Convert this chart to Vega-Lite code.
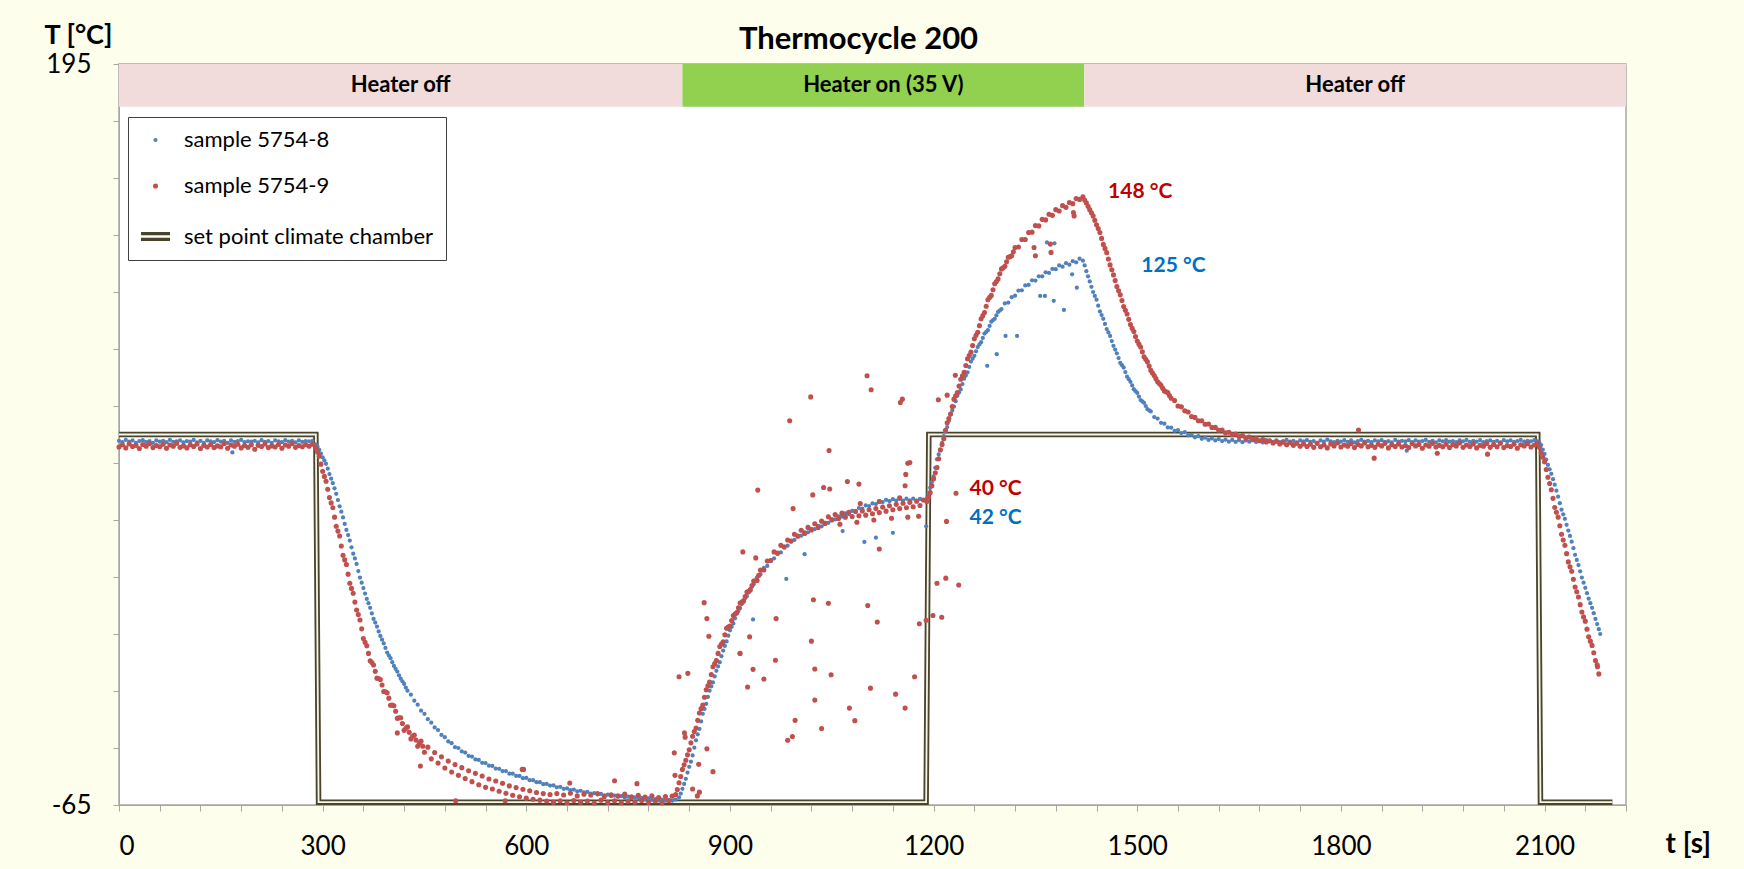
{
"$schema":"https://vega.github.io/schema/vega-lite/v6.json",
"autosize":{"type":"none"},
"width":1507,"height":741,
"padding":{"left":119,"top":64,"right":118,"bottom":64},
"background":"#FDFEEC",
"config":{"font":"Lato","view":{"fill":"white","stroke":"#A6A6A6","strokeWidth":1.5},
"axis":{"domainColor":"#A6A6A6","tickColor":"#A6A6A6","tickSize":6,"labelFontSize":26,"labelColor":"#000","labelFont":"Lato","titleFont":"Lato","titleFontSize":27,"titleFontWeight":"bold","titleColor":"#000","gridColor":"#E3E3E3","labelPadding":22,"labelOverlap":false}},
"title":{"text":"Thermocycle 200","fontSize":31,"fontWeight":"bold","color":"#000","font":"Lato","anchor":"middle","dx":-14,"dy":76,"offset":17,"baseline":"alphabetic"},
"datasets":{
"bands":[{"a":0,"b":830,"m":415,"label":"Heater off"},{"a":830,"b":1422,"m":1126,"label":"Heater on (35 V)"},{"a":1422,"b":2220,"m":1821,"label":"Heater off"}],
"sp":[{"t":0,"v":65},{"t":290,"v":65},{"t":294,"v":-64},{"t":1189,"v":-64},{"t":1193,"v":65},{"t":2090,"v":65},{"t":2094,"v":-64},{"t":2200,"v":-64}],
"annr":[{"t":1457,"v":150,"label":"148 °C"},{"t":1253,"v":46,"label":"40 °C"}],
"annb":[{"t":1506,"v":124,"label":"125 °C"},{"t":1253,"v":35.6,"label":"42 °C"}],
"pts":[
{"t":0,"s":"b","v":62.8},{"t":5,"s":"b","v":62.3},{"t":10,"s":"b","v":63.1},{"t":15,"s":"b","v":62.5},{"t":20,"s":"b","v":62.9},{"t":25,"s":"b","v":62.1},{"t":30,"s":"b","v":62.7},{"t":35,"s":"b","v":63.0},{"t":40,"s":"b","v":62.4},{"t":45,"s":"b","v":62.7},{"t":50,"s":"b","v":62.1},{"t":55,"s":"b","v":62.9},{"t":60,"s":"b","v":62.5},{"t":65,"s":"b","v":62.8},{"t":70,"s":"b","v":62.3},{"t":75,"s":"b","v":63.1},{"t":80,"s":"b","v":62.4},{"t":85,"s":"b","v":62.6},{"t":90,"s":"b","v":62.9},{"t":95,"s":"b","v":62.2},{"t":100,"s":"b","v":62.7},{"t":105,"s":"b","v":62.5},{"t":110,"s":"b","v":63.1},{"t":115,"s":"b","v":62.2},{"t":120,"s":"b","v":62.8},{"t":125,"s":"b","v":62.1},{"t":130,"s":"b","v":62.9},{"t":135,"s":"b","v":62.6},{"t":140,"s":"b","v":62.3},{"t":145,"s":"b","v":63.0},{"t":150,"s":"b","v":62.5},{"t":155,"s":"b","v":62.8},{"t":160,"s":"b","v":62.1},{"t":165,"s":"b","v":62.9},{"t":167,"s":"b","v":58.7},{"t":170,"s":"b","v":62.4},{"t":175,"s":"b","v":62.7},{"t":180,"s":"b","v":63.1},{"t":185,"s":"b","v":62.3},{"t":190,"s":"b","v":62.6},{"t":195,"s":"b","v":62.5},{"t":200,"s":"b","v":62.8},{"t":205,"s":"b","v":62.2},{"t":210,"s":"b","v":63.0},{"t":215,"s":"b","v":62.4},{"t":220,"s":"b","v":62.7},{"t":225,"s":"b","v":62.1},{"t":230,"s":"b","v":62.9},{"t":235,"s":"b","v":62.6},{"t":240,"s":"b","v":62.3},{"t":245,"s":"b","v":63.0},{"t":250,"s":"b","v":62.5},{"t":255,"s":"b","v":62.8},{"t":260,"s":"b","v":62.2},{"t":265,"s":"b","v":62.9},{"t":270,"s":"b","v":62.4},{"t":275,"s":"b","v":62.7},{"t":280,"s":"b","v":62.6},{"t":285,"s":"b","v":62.8},
{"t":290,"s":"b","v":61.5},{"t":295,"s":"b","v":59.6},{"t":300,"s":"b","v":57.0},{"t":305,"s":"b","v":54.7},{"t":310,"s":"b","v":51.1},{"t":315,"s":"b","v":47.9},{"t":320,"s":"b","v":44.2},{"t":325,"s":"b","v":39.8},{"t":330,"s":"b","v":35.9},{"t":335,"s":"b","v":31.5},{"t":340,"s":"b","v":27.8},{"t":345,"s":"b","v":23.2},{"t":350,"s":"b","v":19.6},{"t":355,"s":"b","v":14.8},{"t":360,"s":"b","v":11.1},{"t":365,"s":"b","v":7.3},{"t":370,"s":"b","v":4.2},{"t":375,"s":"b","v":0.3},{"t":380,"s":"b","v":-2.4},{"t":385,"s":"b","v":-5.7},{"t":390,"s":"b","v":-8.3},{"t":395,"s":"b","v":-11.5},{"t":400,"s":"b","v":-13.5},{"t":405,"s":"b","v":-16.2},{"t":410,"s":"b","v":-18.2},{"t":415,"s":"b","v":-20.7},{"t":420,"s":"b","v":-22.5},{"t":425,"s":"b","v":-24.9},{"t":430,"s":"b","v":-26.3},{"t":435,"s":"b","v":-28.4},{"t":440,"s":"b","v":-29.8},{"t":445,"s":"b","v":-31.9},{"t":450,"s":"b","v":-33.0},{"t":455,"s":"b","v":-34.9},{"t":460,"s":"b","v":-36.1},{"t":465,"s":"b","v":-37.8},{"t":470,"s":"b","v":-38.7},{"t":475,"s":"b","v":-40.4},{"t":480,"s":"b","v":-41.2},{"t":485,"s":"b","v":-42.7},{"t":490,"s":"b","v":-43.3},{"t":495,"s":"b","v":-44.7},{"t":500,"s":"b","v":-45.0},{"t":505,"s":"b","v":-46.2},{"t":510,"s":"b","v":-46.6},{"t":515,"s":"b","v":-47.8},{"t":520,"s":"b","v":-48.0},{"t":525,"s":"b","v":-49.0},{"t":530,"s":"b","v":-49.2},{"t":535,"s":"b","v":-50.2},{"t":540,"s":"b","v":-50.3},{"t":545,"s":"b","v":-51.2},{"t":550,"s":"b","v":-51.3},{"t":555,"s":"b","v":-52.2},{"t":560,"s":"b","v":-52.3},{"t":565,"s":"b","v":-53.1},{"t":570,"s":"b","v":-53.1},{"t":575,"s":"b","v":-54.0},{"t":580,"s":"b","v":-54.0},{"t":585,"s":"b","v":-54.8},{"t":590,"s":"b","v":-54.8},{"t":595,"s":"b","v":-55.6},{"t":600,"s":"b","v":-55.5},{"t":605,"s":"b","v":-56.3},{"t":610,"s":"b","v":-56.3},{"t":615,"s":"b","v":-57.0},{"t":620,"s":"b","v":-57.0},{"t":625,"s":"b","v":-57.7},{"t":630,"s":"b","v":-57.6},{"t":635,"s":"b","v":-58.2},{"t":640,"s":"b","v":-58.1},{"t":645,"s":"b","v":-58.8},{"t":650,"s":"b","v":-58.6},{"t":655,"s":"b","v":-59.3},{"t":660,"s":"b","v":-59.2},{"t":665,"s":"b","v":-59.8},{"t":670,"s":"b","v":-59.6},{"t":675,"s":"b","v":-60.2},{"t":680,"s":"b","v":-60.0},{"t":685,"s":"b","v":-60.6},{"t":690,"s":"b","v":-60.4},{"t":695,"s":"b","v":-61.0},{"t":700,"s":"b","v":-60.8},{"t":705,"s":"b","v":-61.3},{"t":710,"s":"b","v":-61.1},{"t":715,"s":"b","v":-61.6},{"t":720,"s":"b","v":-61.4},{"t":725,"s":"b","v":-61.9},{"t":730,"s":"b","v":-61.7},{"t":735,"s":"b","v":-62.1},{"t":740,"s":"b","v":-61.9},{"t":745,"s":"b","v":-62.4},{"t":750,"s":"b","v":-62.1},{"t":755,"s":"b","v":-62.6},{"t":760,"s":"b","v":-62.3},{"t":765,"s":"b","v":-62.8},{"t":770,"s":"b","v":-62.5},{"t":775,"s":"b","v":-63.0},{"t":780,"s":"b","v":-62.7},{"t":785,"s":"b","v":-63.2},{"t":790,"s":"b","v":-62.9},{"t":795,"s":"b","v":-63.4},{"t":800,"s":"b","v":-63.1},{"t":805,"s":"b","v":-63.5},{"t":810,"s":"b","v":-63.2},{"t":815,"s":"b","v":-63.5},{"t":820,"s":"b","v":-63.1},{"t":825,"s":"b","v":-62.3},
{"t":830,"s":"b","v":-59.3},{"t":835,"s":"b","v":-55.8},{"t":840,"s":"b","v":-51.6},{"t":845,"s":"b","v":-47.6},{"t":850,"s":"b","v":-42.3},{"t":855,"s":"b","v":-38.3},{"t":860,"s":"b","v":-33.0},{"t":865,"s":"b","v":-29.5},{"t":870,"s":"b","v":-24.9},{"t":875,"s":"b","v":-22.0},{"t":880,"s":"b","v":-17.9},{"t":885,"s":"b","v":-14.9},{"t":890,"s":"b","v":-10.8},{"t":895,"s":"b","v":-7.6},{"t":900,"s":"b","v":-3.7},{"t":905,"s":"b","v":-1.3},{"t":910,"s":"b","v":2.2},{"t":915,"s":"b","v":4.1},{"t":920,"s":"b","v":6.9},{"t":925,"s":"b","v":8.3},{"t":930,"s":"b","v":10.8},{"t":935,"s":"b","v":12.5},{"t":940,"s":"b","v":14.9},{"t":945,"s":"b","v":15.9},{"t":950,"s":"b","v":18.2},{"t":955,"s":"b","v":18.9},{"t":960,"s":"b","v":20.8},{"t":965,"s":"b","v":21.5},{"t":970,"s":"b","v":23.1},{"t":975,"s":"b","v":23.6},{"t":980,"s":"b","v":25.7},{"t":985,"s":"b","v":26.0},{"t":990,"s":"b","v":27.5},{"t":995,"s":"b","v":28.0},{"t":1000,"s":"b","v":29.5},{"t":1005,"s":"b","v":29.5},{"t":1010,"s":"b","v":30.7},{"t":1015,"s":"b","v":30.7},{"t":1020,"s":"b","v":31.9},{"t":1025,"s":"b","v":31.8},{"t":1030,"s":"b","v":32.9},{"t":1035,"s":"b","v":32.8},{"t":1040,"s":"b","v":34.0},{"t":1045,"s":"b","v":34.0},{"t":1050,"s":"b","v":35.3},{"t":1055,"s":"b","v":35.2},{"t":1060,"s":"b","v":36.3},{"t":1065,"s":"b","v":36.2},{"t":1070,"s":"b","v":37.3},{"t":1075,"s":"b","v":37.1},{"t":1080,"s":"b","v":38.2},{"t":1085,"s":"b","v":38.1},{"t":1090,"s":"b","v":39.2},{"t":1095,"s":"b","v":39.0},{"t":1100,"s":"b","v":40.1},{"t":1105,"s":"b","v":39.9},{"t":1110,"s":"b","v":40.8},{"t":1115,"s":"b","v":40.6},{"t":1120,"s":"b","v":41.6},{"t":1125,"s":"b","v":41.3},{"t":1130,"s":"b","v":42.1},{"t":1135,"s":"b","v":41.6},{"t":1140,"s":"b","v":42.3},{"t":1145,"s":"b","v":41.8},{"t":1150,"s":"b","v":42.4},{"t":1155,"s":"b","v":41.8},{"t":1160,"s":"b","v":42.5},{"t":1165,"s":"b","v":41.9},{"t":1170,"s":"b","v":42.5},{"t":1175,"s":"b","v":41.8},{"t":1180,"s":"b","v":42.4},{"t":1185,"s":"b","v":42.0},{"t":1190,"s":"b","v":42.6},
{"t":983,"s":"b","v":14.3},{"t":1010,"s":"b","v":23.0},{"t":1066,"s":"b","v":31.1},{"t":1098,"s":"b","v":27.3},{"t":1115,"s":"b","v":28.8},{"t":1140,"s":"b","v":30.5},{"t":1189,"s":"b","v":32.8},{"t":934,"s":"b","v":0.1},{"t":914,"s":"b","v":-11.8},
{"t":1195,"s":"b","v":46.3},{"t":1200,"s":"b","v":50.3},{"t":1205,"s":"b","v":56.3},{"t":1210,"s":"b","v":59.6},{"t":1215,"s":"b","v":64.4},{"t":1220,"s":"b","v":67.6},{"t":1225,"s":"b","v":72.0},{"t":1230,"s":"b","v":74.8},{"t":1235,"s":"b","v":78.6},{"t":1240,"s":"b","v":80.8},{"t":1245,"s":"b","v":84.6},{"t":1250,"s":"b","v":86.8},{"t":1255,"s":"b","v":90.6},{"t":1260,"s":"b","v":92.6},{"t":1265,"s":"b","v":95.7},{"t":1270,"s":"b","v":97.4},{"t":1275,"s":"b","v":100.4},{"t":1280,"s":"b","v":101.6},{"t":1285,"s":"b","v":104.6},{"t":1290,"s":"b","v":105.6},{"t":1295,"s":"b","v":108.0},{"t":1300,"s":"b","v":109.0},{"t":1305,"s":"b","v":111.0},{"t":1310,"s":"b","v":111.3},{"t":1315,"s":"b","v":113.2},{"t":1320,"s":"b","v":113.7},{"t":1325,"s":"b","v":115.5},{"t":1330,"s":"b","v":115.6},{"t":1335,"s":"b","v":117.3},{"t":1340,"s":"b","v":117.5},{"t":1345,"s":"b","v":119.1},{"t":1350,"s":"b","v":119.0},{"t":1355,"s":"b","v":120.5},{"t":1360,"s":"b","v":120.5},{"t":1365,"s":"b","v":121.9},{"t":1370,"s":"b","v":121.7},{"t":1375,"s":"b","v":123.1},{"t":1380,"s":"b","v":123.0},{"t":1385,"s":"b","v":124.3},{"t":1390,"s":"b","v":123.9},{"t":1395,"s":"b","v":125.1},{"t":1400,"s":"b","v":124.6},{"t":1405,"s":"b","v":125.8},{"t":1410,"s":"b","v":125.4},{"t":1415,"s":"b","v":126.7},{"t":1420,"s":"b","v":126.0},
{"t":1279,"s":"b","v":89.1},{"t":1293,"s":"b","v":93.2},{"t":1306,"s":"b","v":99.6},{"t":1323,"s":"b","v":99.6},{"t":1357,"s":"b","v":113.6},{"t":1364,"s":"b","v":113.6},{"t":1377,"s":"b","v":111.9},{"t":1392,"s":"b","v":108.7},{"t":1404,"s":"b","v":121.2},{"t":1411,"s":"b","v":116.5},{"t":1367,"s":"b","v":132.4},{"t":1378,"s":"b","v":132.1},
{"t":1425,"s":"b","v":122.3},{"t":1430,"s":"b","v":118.7},{"t":1435,"s":"b","v":115.0},{"t":1440,"s":"b","v":112.3},{"t":1445,"s":"b","v":108.2},{"t":1450,"s":"b","v":105.6},{"t":1455,"s":"b","v":102.0},{"t":1460,"s":"b","v":99.6},{"t":1465,"s":"b","v":96.1},{"t":1470,"s":"b","v":93.5},{"t":1475,"s":"b","v":90.1},{"t":1480,"s":"b","v":88.5},{"t":1485,"s":"b","v":85.3},{"t":1490,"s":"b","v":83.5},{"t":1495,"s":"b","v":80.9},{"t":1500,"s":"b","v":79.6},{"t":1505,"s":"b","v":77.1},{"t":1510,"s":"b","v":76.1},{"t":1515,"s":"b","v":73.9},{"t":1520,"s":"b","v":73.1},{"t":1525,"s":"b","v":71.1},{"t":1530,"s":"b","v":70.6},{"t":1535,"s":"b","v":69.1},{"t":1540,"s":"b","v":68.8},{"t":1545,"s":"b","v":67.5},{"t":1550,"s":"b","v":67.4},{"t":1555,"s":"b","v":66.3},{"t":1560,"s":"b","v":66.5},{"t":1565,"s":"b","v":65.5},{"t":1570,"s":"b","v":65.8},{"t":1575,"s":"b","v":64.7},{"t":1580,"s":"b","v":64.9},{"t":1585,"s":"b","v":64.0},{"t":1590,"s":"b","v":64.4},{"t":1595,"s":"b","v":63.5},{"t":1600,"s":"b","v":63.9},{"t":1605,"s":"b","v":63.1},{"t":1610,"s":"b","v":63.6},{"t":1615,"s":"b","v":62.9},{"t":1620,"s":"b","v":63.4},{"t":1625,"s":"b","v":62.7},{"t":1630,"s":"b","v":63.2},{"t":1635,"s":"b","v":62.5},{"t":1640,"s":"b","v":63.1},{"t":1645,"s":"b","v":62.4},{"t":1650,"s":"b","v":63.0},
{"t":1655,"s":"b","v":62.3},{"t":1660,"s":"b","v":62.9},{"t":1665,"s":"b","v":62.5},{"t":1670,"s":"b","v":63.1},{"t":1675,"s":"b","v":62.4},{"t":1680,"s":"b","v":62.8},{"t":1685,"s":"b","v":62.2},{"t":1690,"s":"b","v":63.0},{"t":1695,"s":"b","v":62.6},{"t":1700,"s":"b","v":62.4},{"t":1705,"s":"b","v":62.9},{"t":1710,"s":"b","v":62.3},{"t":1715,"s":"b","v":62.7},{"t":1720,"s":"b","v":63.1},{"t":1725,"s":"b","v":62.5},{"t":1730,"s":"b","v":62.8},{"t":1735,"s":"b","v":62.2},{"t":1740,"s":"b","v":62.9},{"t":1745,"s":"b","v":62.6},{"t":1750,"s":"b","v":63.0},{"t":1755,"s":"b","v":62.4},{"t":1760,"s":"b","v":62.7},{"t":1765,"s":"b","v":62.1},{"t":1770,"s":"b","v":62.9},{"t":1775,"s":"b","v":62.5},{"t":1780,"s":"b","v":63.2},{"t":1785,"s":"b","v":62.6},{"t":1790,"s":"b","v":62.3},{"t":1795,"s":"b","v":62.8},{"t":1800,"s":"b","v":62.5},{"t":1805,"s":"b","v":63.0},{"t":1810,"s":"b","v":62.4},{"t":1815,"s":"b","v":62.9},{"t":1820,"s":"b","v":62.2},{"t":1825,"s":"b","v":62.7},{"t":1830,"s":"b","v":63.1},{"t":1835,"s":"b","v":62.5},{"t":1840,"s":"b","v":62.8},{"t":1845,"s":"b","v":62.3},{"t":1850,"s":"b","v":62.9},{"t":1855,"s":"b","v":62.6},{"t":1860,"s":"b","v":63.0},{"t":1865,"s":"b","v":62.4},{"t":1870,"s":"b","v":62.7},{"t":1875,"s":"b","v":62.2},{"t":1880,"s":"b","v":63.1},{"t":1885,"s":"b","v":62.5},{"t":1890,"s":"b","v":62.8},{"t":1895,"s":"b","v":62.6},{"t":1897,"s":"b","v":59.3},{"t":1900,"s":"b","v":63.0},{"t":1905,"s":"b","v":62.3},{"t":1910,"s":"b","v":62.9},{"t":1915,"s":"b","v":62.5},{"t":1920,"s":"b","v":62.7},{"t":1925,"s":"b","v":63.1},{"t":1930,"s":"b","v":62.4},{"t":1935,"s":"b","v":62.8},{"t":1940,"s":"b","v":62.2},{"t":1945,"s":"b","v":62.9},{"t":1950,"s":"b","v":62.6},{"t":1955,"s":"b","v":63.0},{"t":1960,"s":"b","v":62.5},{"t":1965,"s":"b","v":62.7},{"t":1970,"s":"b","v":62.3},{"t":1975,"s":"b","v":62.9},{"t":1980,"s":"b","v":62.6},{"t":1985,"s":"b","v":63.1},{"t":1990,"s":"b","v":62.4},{"t":1995,"s":"b","v":62.8},{"t":2000,"s":"b","v":62.5},{"t":2005,"s":"b","v":63.0},{"t":2010,"s":"b","v":62.3},{"t":2015,"s":"b","v":62.7},{"t":2020,"s":"b","v":62.9},{"t":2025,"s":"b","v":62.4},{"t":2030,"s":"b","v":62.8},{"t":2035,"s":"b","v":62.2},{"t":2040,"s":"b","v":63.0},{"t":2045,"s":"b","v":62.6},{"t":2050,"s":"b","v":62.9},{"t":2055,"s":"b","v":62.4},{"t":2060,"s":"b","v":62.7},{"t":2065,"s":"b","v":63.1},{"t":2070,"s":"b","v":62.5},{"t":2075,"s":"b","v":62.8},{"t":2080,"s":"b","v":62.6},{"t":2085,"s":"b","v":63.0},{"t":2090,"s":"b","v":62.6},
{"t":2095,"s":"b","v":61.3},{"t":2100,"s":"b","v":58.2},{"t":2105,"s":"b","v":54.3},{"t":2110,"s":"b","v":51.2},{"t":2115,"s":"b","v":47.4},{"t":2120,"s":"b","v":43.2},{"t":2125,"s":"b","v":38.6},{"t":2130,"s":"b","v":35.4},{"t":2135,"s":"b","v":31.3},{"t":2140,"s":"b","v":27.4},{"t":2145,"s":"b","v":22.8},{"t":2150,"s":"b","v":19.2},{"t":2155,"s":"b","v":14.8},{"t":2160,"s":"b","v":11.2},{"t":2165,"s":"b","v":7.4},{"t":2170,"s":"b","v":4.2},{"t":2175,"s":"b","v":0.3},{"t":2180,"s":"b","v":-3.3},{"t":2182,"s":"b","v":-5.0},
{"t":292.5,"s":"b","v":60.7},{"t":297.5,"s":"b","v":58.3},{"t":302.5,"s":"b","v":55.9},{"t":307.5,"s":"b","v":53.0},{"t":312.5,"s":"b","v":49.5},{"t":317.5,"s":"b","v":46.1},{"t":322.5,"s":"b","v":42.0},{"t":327.5,"s":"b","v":37.9},{"t":332.5,"s":"b","v":33.6},{"t":337.5,"s":"b","v":29.7},{"t":342.5,"s":"b","v":25.4},{"t":347.5,"s":"b","v":21.5},{"t":352.5,"s":"b","v":17.1},{"t":357.5,"s":"b","v":13.0},{"t":362.5,"s":"b","v":9.2},{"t":367.5,"s":"b","v":5.8},{"t":372.5,"s":"b","v":2.2},{"t":377.5,"s":"b","v":-1.0},{"t":382.5,"s":"b","v":-4.1},{"t":387.5,"s":"b","v":-7.0},{"t":392.5,"s":"b","v":-9.9},{"t":397.5,"s":"b","v":-12.5},{"t":402.5,"s":"b","v":-14.9},{"t":407.5,"s":"b","v":-17.2},{"t":412.5,"s":"b","v":-19.5},{"t":417.5,"s":"b","v":-21.6},{"t":422.5,"s":"b","v":-23.8},
{"t":827.5,"s":"b","v":-61.0},{"t":832.5,"s":"b","v":-57.6},{"t":837.5,"s":"b","v":-53.6},{"t":842.5,"s":"b","v":-49.8},{"t":847.5,"s":"b","v":-44.9},{"t":852.5,"s":"b","v":-40.2},{"t":857.5,"s":"b","v":-35.7},{"t":862.5,"s":"b","v":-31.3},{"t":867.5,"s":"b","v":-27.1},{"t":872.5,"s":"b","v":-23.4},{"t":877.5,"s":"b","v":-19.9},{"t":882.5,"s":"b","v":-16.4},{"t":887.5,"s":"b","v":-12.8},{"t":892.5,"s":"b","v":-9.2},{"t":897.5,"s":"b","v":-5.6},{"t":902.5,"s":"b","v":-2.5},{"t":907.5,"s":"b","v":0.5},{"t":912.5,"s":"b","v":3.1},{"t":917.5,"s":"b","v":5.5},{"t":922.5,"s":"b","v":7.6},{"t":927.5,"s":"b","v":9.6},{"t":932.5,"s":"b","v":11.6},{"t":937.5,"s":"b","v":13.7},{"t":942.5,"s":"b","v":15.4},
{"t":1192.5,"s":"b","v":44.0},{"t":1197.5,"s":"b","v":48.3},{"t":1202.5,"s":"b","v":53.3},{"t":1207.5,"s":"b","v":58.0},{"t":1212.5,"s":"b","v":62.1},{"t":1217.5,"s":"b","v":66.0},{"t":1222.5,"s":"b","v":69.8},{"t":1227.5,"s":"b","v":73.4},{"t":1232.5,"s":"b","v":76.7},{"t":1237.5,"s":"b","v":79.7},{"t":1242.5,"s":"b","v":82.7},{"t":1247.5,"s":"b","v":85.7},{"t":1252.5,"s":"b","v":88.7},{"t":1257.5,"s":"b","v":91.6},{"t":1262.5,"s":"b","v":94.2},{"t":1267.5,"s":"b","v":96.6},{"t":1272.5,"s":"b","v":98.9},{"t":1277.5,"s":"b","v":101.0},{"t":1282.5,"s":"b","v":103.1},{"t":1287.5,"s":"b","v":105.1},{"t":1292.5,"s":"b","v":106.8},{"t":1297.5,"s":"b","v":108.5},
{"t":1422.5,"s":"b","v":124.3},{"t":1427.5,"s":"b","v":120.5},{"t":1432.5,"s":"b","v":116.8},{"t":1437.5,"s":"b","v":113.6},{"t":1442.5,"s":"b","v":110.2},{"t":1447.5,"s":"b","v":106.9},{"t":1452.5,"s":"b","v":103.8},{"t":1457.5,"s":"b","v":100.8},{"t":1462.5,"s":"b","v":97.8},{"t":1467.5,"s":"b","v":94.8},{"t":1472.5,"s":"b","v":91.8},{"t":1477.5,"s":"b","v":89.3},{"t":1482.5,"s":"b","v":86.9},{"t":1487.5,"s":"b","v":84.4},{"t":1492.5,"s":"b","v":82.2},{"t":1497.5,"s":"b","v":80.2},{"t":1502.5,"s":"b","v":78.3},{"t":1507.5,"s":"b","v":76.6},{"t":1512.5,"s":"b","v":75.0},{"t":1517.5,"s":"b","v":73.5},
{"t":2092.5,"s":"b","v":62.0},{"t":2097.5,"s":"b","v":59.7},{"t":2102.5,"s":"b","v":56.2},{"t":2107.5,"s":"b","v":52.8},{"t":2112.5,"s":"b","v":49.3},{"t":2117.5,"s":"b","v":45.3},{"t":2122.5,"s":"b","v":40.9},{"t":2127.5,"s":"b","v":37.0},{"t":2132.5,"s":"b","v":33.3},{"t":2137.5,"s":"b","v":29.4},{"t":2142.5,"s":"b","v":25.1},{"t":2147.5,"s":"b","v":21.0},{"t":2152.5,"s":"b","v":17.0},{"t":2157.5,"s":"b","v":13.0},{"t":2162.5,"s":"b","v":9.3},{"t":2167.5,"s":"b","v":5.8},{"t":2172.5,"s":"b","v":2.3},{"t":2177.5,"s":"b","v":-1.5},
{"t":0,"s":"r","v":60.6},{"t":5,"s":"r","v":61.4},{"t":10,"s":"r","v":60.3},{"t":15,"s":"r","v":61.7},{"t":20,"s":"r","v":60.8},{"t":25,"s":"r","v":61.2},{"t":30,"s":"r","v":60.1},{"t":35,"s":"r","v":61.5},{"t":40,"s":"r","v":60.9},{"t":45,"s":"r","v":61.8},{"t":50,"s":"r","v":60.4},{"t":55,"s":"r","v":61.1},{"t":60,"s":"r","v":60.7},{"t":65,"s":"r","v":61.6},{"t":70,"s":"r","v":60.2},{"t":75,"s":"r","v":61.3},{"t":80,"s":"r","v":60.9},{"t":85,"s":"r","v":61.9},{"t":90,"s":"r","v":60.5},{"t":95,"s":"r","v":61.0},{"t":100,"s":"r","v":60.3},{"t":105,"s":"r","v":61.4},{"t":110,"s":"r","v":60.8},{"t":115,"s":"r","v":61.7},{"t":120,"s":"r","v":60.1},{"t":125,"s":"r","v":61.2},{"t":130,"s":"r","v":60.6},{"t":135,"s":"r","v":61.5},{"t":140,"s":"r","v":60.4},{"t":145,"s":"r","v":61.0},{"t":150,"s":"r","v":60.7},{"t":155,"s":"r","v":61.8},{"t":160,"s":"r","v":60.2},{"t":165,"s":"r","v":61.3},{"t":170,"s":"r","v":60.9},{"t":175,"s":"r","v":61.6},{"t":180,"s":"r","v":60.3},{"t":185,"s":"r","v":61.1},{"t":190,"s":"r","v":60.5},{"t":195,"s":"r","v":61.4},{"t":200,"s":"r","v":59.8},{"t":205,"s":"r","v":61.2},{"t":210,"s":"r","v":60.8},{"t":215,"s":"r","v":61.7},{"t":220,"s":"r","v":60.4},{"t":225,"s":"r","v":61.0},{"t":230,"s":"r","v":60.6},{"t":235,"s":"r","v":61.5},{"t":240,"s":"r","v":60.2},{"t":245,"s":"r","v":61.3},{"t":250,"s":"r","v":60.9},{"t":255,"s":"r","v":61.8},{"t":260,"s":"r","v":60.5},{"t":265,"s":"r","v":61.1},{"t":270,"s":"r","v":60.7},{"t":275,"s":"r","v":61.4},{"t":280,"s":"r","v":60.9},{"t":285,"s":"r","v":61.6},
{"t":290,"s":"r","v":60.2},{"t":295,"s":"r","v":57.4},{"t":300,"s":"r","v":52.1},{"t":305,"s":"r","v":48.6},{"t":310,"s":"r","v":42.9},{"t":315,"s":"r","v":39.3},{"t":320,"s":"r","v":32.8},{"t":325,"s":"r","v":29.4},{"t":330,"s":"r","v":22.6},{"t":335,"s":"r","v":19.4},{"t":340,"s":"r","v":12.8},{"t":345,"s":"r","v":9.3},{"t":350,"s":"r","v":3.4},{"t":355,"s":"r","v":-0.1},{"t":360,"s":"r","v":-6.6},{"t":365,"s":"r","v":-9.1},{"t":370,"s":"r","v":-14.4},{"t":375,"s":"r","v":-15.9},{"t":380,"s":"r","v":-20.5},{"t":385,"s":"r","v":-21.0},{"t":390,"s":"r","v":-25.2},{"t":395,"s":"r","v":-25.6},{"t":400,"s":"r","v":-30.0},{"t":405,"s":"r","v":-30.2},{"t":410,"s":"r","v":-34.6},{"t":415,"s":"r","v":-34.4},{"t":420,"s":"r","v":-38.8},{"t":425,"s":"r","v":-37.6},{"t":430,"s":"r","v":-41.8},{"t":435,"s":"r","v":-40.5},{"t":440,"s":"r","v":-44.4},{"t":445,"s":"r","v":-42.6},{"t":450,"s":"r","v":-46.5},{"t":455,"s":"r","v":-44.7},{"t":460,"s":"r","v":-48.8},{"t":465,"s":"r","v":-46.6},{"t":470,"s":"r","v":-50.3},{"t":475,"s":"r","v":-48.1},{"t":480,"s":"r","v":-52.0},{"t":485,"s":"r","v":-49.6},{"t":490,"s":"r","v":-53.4},{"t":495,"s":"r","v":-50.8},{"t":500,"s":"r","v":-54.6},{"t":505,"s":"r","v":-51.9},{"t":510,"s":"r","v":-55.7},{"t":515,"s":"r","v":-53.0},{"t":520,"s":"r","v":-56.8},{"t":525,"s":"r","v":-53.9},{"t":530,"s":"r","v":-57.9},{"t":535,"s":"r","v":-54.8},{"t":540,"s":"r","v":-58.8},{"t":545,"s":"r","v":-55.9},{"t":550,"s":"r","v":-59.4},{"t":555,"s":"r","v":-56.6},{"t":560,"s":"r","v":-60.2},{"t":565,"s":"r","v":-57.4},{"t":570,"s":"r","v":-60.9},{"t":575,"s":"r","v":-58.3},{"t":580,"s":"r","v":-61.6},{"t":585,"s":"r","v":-58.9},{"t":590,"s":"r","v":-62.1},{"t":595,"s":"r","v":-59.5},{"t":600,"s":"r","v":-62.6},{"t":605,"s":"r","v":-60.0},{"t":610,"s":"r","v":-63.0},{"t":615,"s":"r","v":-60.6},{"t":620,"s":"r","v":-63.3},{"t":625,"s":"r","v":-61.0},{"t":630,"s":"r","v":-63.6},{"t":635,"s":"r","v":-61.3},{"t":640,"s":"r","v":-64.0},{"t":645,"s":"r","v":-61.0},{"t":650,"s":"r","v":-63.5},{"t":655,"s":"r","v":-61.5},{"t":660,"s":"r","v":-64.2},{"t":665,"s":"r","v":-60.9},{"t":670,"s":"r","v":-63.4},{"t":675,"s":"r","v":-61.8},{"t":680,"s":"r","v":-64.0},{"t":685,"s":"r","v":-61.2},{"t":690,"s":"r","v":-63.6},{"t":695,"s":"r","v":-61.5},{"t":700,"s":"r","v":-64.3},{"t":705,"s":"r","v":-61.0},{"t":710,"s":"r","v":-63.3},{"t":715,"s":"r","v":-62.0},{"t":720,"s":"r","v":-64.1},{"t":725,"s":"r","v":-61.4},{"t":730,"s":"r","v":-63.5},{"t":735,"s":"r","v":-61.8},{"t":740,"s":"r","v":-64.2},{"t":745,"s":"r","v":-61.2},{"t":750,"s":"r","v":-63.7},{"t":755,"s":"r","v":-62.1},{"t":760,"s":"r","v":-64.0},{"t":765,"s":"r","v":-61.6},{"t":770,"s":"r","v":-63.4},{"t":775,"s":"r","v":-62.2},{"t":780,"s":"r","v":-64.1},{"t":785,"s":"r","v":-61.8},{"t":790,"s":"r","v":-63.6},{"t":795,"s":"r","v":-62.4},{"t":800,"s":"r","v":-64.2},{"t":805,"s":"r","v":-62.0},{"t":810,"s":"r","v":-63.5},{"t":815,"s":"r","v":-61.9},{"t":820,"s":"r","v":-61.3},
{"t":410,"s":"r","v":-39.7},{"t":444,"s":"r","v":-51.3},{"t":496,"s":"r","v":-63.5},{"t":569,"s":"r","v":-63.5},{"t":596,"s":"r","v":-52.5},{"t":594,"s":"r","v":-52.5},{"t":664,"s":"r","v":-57.3},{"t":730,"s":"r","v":-56.5},{"t":763,"s":"r","v":-57.5},{"t":818,"s":"r","v":-46.7},{"t":819,"s":"r","v":-54.6},{"t":833,"s":"r","v":-39.7},{"t":834,"s":"r","v":-41.2},{"t":845,"s":"r","v":-59.4},{"t":852,"s":"r","v":-61.8},{"t":855,"s":"r","v":-60.5},{"t":854,"s":"r","v":-50.7},{"t":866,"s":"r","v":-45.3},{"t":875,"s":"r","v":-53.3},{"t":825,"s":"r","v":-20.0},{"t":838,"s":"r","v":-18.8},{"t":862,"s":"r","v":6.0},{"t":866,"s":"r","v":0.4},{"t":869,"s":"r","v":-5.8},
{"t":825,"s":"r","v":-57.2},{"t":830,"s":"r","v":-52.5},{"t":835,"s":"r","v":-49.3},{"t":840,"s":"r","v":-45.6},{"t":845,"s":"r","v":-40.9},{"t":850,"s":"r","v":-38.0},{"t":855,"s":"r","v":-32.7},{"t":860,"s":"r","v":-29.9},{"t":865,"s":"r","v":-24.6},{"t":870,"s":"r","v":-21.9},{"t":875,"s":"r","v":-16.5},{"t":880,"s":"r","v":-14.3},{"t":885,"s":"r","v":-9.4},{"t":890,"s":"r","v":-7.7},{"t":895,"s":"r","v":-3.0},{"t":900,"s":"r","v":-2.2},{"t":905,"s":"r","v":1.5},{"t":910,"s":"r","v":2.5},{"t":915,"s":"r","v":5.9},{"t":920,"s":"r","v":6.5},{"t":925,"s":"r","v":9.7},{"t":930,"s":"r","v":10.4},{"t":935,"s":"r","v":13.6},{"t":940,"s":"r","v":13.8},{"t":945,"s":"r","v":17.4},{"t":950,"s":"r","v":17.5},{"t":955,"s":"r","v":20.6},{"t":960,"s":"r","v":20.8},{"t":965,"s":"r","v":23.8},{"t":970,"s":"r","v":23.4},{"t":975,"s":"r","v":26.1},{"t":980,"s":"r","v":25.5},{"t":985,"s":"r","v":28.0},{"t":990,"s":"r","v":27.6},{"t":995,"s":"r","v":30.0},{"t":1000,"s":"r","v":29.3},{"t":1005,"s":"r","v":31.4},{"t":1010,"s":"r","v":30.3},{"t":1015,"s":"r","v":32.4},{"t":1020,"s":"r","v":31.5},{"t":1025,"s":"r","v":33.7},{"t":1030,"s":"r","v":32.4},{"t":1035,"s":"r","v":34.6},{"t":1040,"s":"r","v":33.8},{"t":1045,"s":"r","v":36.1},{"t":1050,"s":"r","v":35.0},{"t":1055,"s":"r","v":36.9},{"t":1060,"s":"r","v":35.5},{"t":1065,"s":"r","v":37.4},{"t":1070,"s":"r","v":36.0},{"t":1075,"s":"r","v":37.7},{"t":1080,"s":"r","v":36.2},{"t":1085,"s":"r","v":38.0},{"t":1090,"s":"r","v":36.5},{"t":1095,"s":"r","v":38.2},{"t":1100,"s":"r","v":36.7},{"t":1105,"s":"r","v":38.6},{"t":1110,"s":"r","v":37.2},{"t":1115,"s":"r","v":39.0},{"t":1120,"s":"r","v":37.6},{"t":1125,"s":"r","v":39.5},{"t":1130,"s":"r","v":38.1},{"t":1135,"s":"r","v":40.0},{"t":1140,"s":"r","v":38.6},{"t":1145,"s":"r","v":40.5},{"t":1150,"s":"r","v":39.0},{"t":1155,"s":"r","v":40.9},{"t":1160,"s":"r","v":39.3},{"t":1165,"s":"r","v":41.2},{"t":1170,"s":"r","v":39.6},{"t":1175,"s":"r","v":41.6},{"t":1180,"s":"r","v":40.1},{"t":1185,"s":"r","v":42.0},{"t":1190,"s":"r","v":41.5},
{"t":1062,"s":"r","v":33.5},{"t":1087,"s":"r","v":34.2},{"t":1112,"s":"r","v":35.0},{"t":1138,"s":"r","v":35.6},{"t":1162,"s":"r","v":36.0},{"t":1178,"s":"r","v":36.3},{"t":1120,"s":"r","v":41.5},{"t":1092,"s":"r","v":40.8},{"t":1150,"s":"r","v":42.8},
{"t":941,"s":"r","v":45.5},{"t":988,"s":"r","v":69.8},{"t":1019,"s":"r","v":78.2},{"t":1102,"s":"r","v":85.6},{"t":1108,"s":"r","v":80.7},{"t":1151,"s":"r","v":76.2},{"t":1154,"s":"r","v":77.4},{"t":1046,"s":"r","v":59.4},{"t":1165,"s":"r","v":55.2},{"t":1159,"s":"r","v":51.0},{"t":1162,"s":"r","v":54.9},{"t":1207,"s":"r","v":77.2},{"t":993,"s":"r","v":39.0},{"t":919,"s":"r","v":23.8},{"t":938,"s":"r","v":21.7},{"t":1073,"s":"r","v":48.5},{"t":1038,"s":"r","v":46.4},{"t":1047,"s":"r","v":45.9},{"t":1090,"s":"r","v":47.6},{"t":1022,"s":"r","v":43.8},{"t":1158,"s":"r","v":47.0},{"t":968,"s":"r","v":0.4},{"t":929,"s":"r","v":-6.0},{"t":915,"s":"r","v":-11.8},{"t":934,"s":"r","v":-17.4},{"t":950,"s":"r","v":-20.8},{"t":967,"s":"r","v":-14.2},{"t":926,"s":"r","v":-23.6},{"t":1020,"s":"r","v":-7.5},{"t":1025,"s":"r","v":-17.3},{"t":1049,"s":"r","v":-19.3},{"t":1025,"s":"r","v":-28.2},{"t":996,"s":"r","v":-35.3},{"t":985,"s":"r","v":-42.3},{"t":992,"s":"r","v":-41.0},{"t":1035,"s":"r","v":-38.2},{"t":1076,"s":"r","v":-31.0},{"t":1084,"s":"r","v":-35.4},{"t":1107,"s":"r","v":-24.0},{"t":1144,"s":"r","v":-26.1},{"t":1158,"s":"r","v":-31.0},{"t":1172,"s":"r","v":-20.0},{"t":1023,"s":"r","v":7.0},{"t":1045,"s":"r","v":5.8},{"t":1103,"s":"r","v":5.0},{"t":1117,"s":"r","v":-0.8},{"t":1179,"s":"r","v":-1.4},{"t":1189,"s":"r","v":-0.2},{"t":1199,"s":"r","v":1.5},{"t":1212,"s":"r","v":0.9},{"t":1205,"s":"r","v":12.8},{"t":1218,"s":"r","v":14.6},{"t":1237,"s":"r","v":12.2},{"t":1219,"s":"r","v":34.5},{"t":1233,"s":"r","v":44.4},{"t":1120,"s":"r","v":24.8},{"t":1220,"s":"r","v":78.8},{"t":1232,"s":"r","v":85.8},
{"t":1195,"s":"r","v":44.6},{"t":1200,"s":"r","v":49.5},{"t":1205,"s":"r","v":53.4},{"t":1210,"s":"r","v":59.6},{"t":1215,"s":"r","v":63.5},{"t":1220,"s":"r","v":69.1},{"t":1225,"s":"r","v":72.2},{"t":1230,"s":"r","v":77.4},{"t":1235,"s":"r","v":79.7},{"t":1240,"s":"r","v":84.4},{"t":1245,"s":"r","v":86.8},{"t":1250,"s":"r","v":91.6},{"t":1255,"s":"r","v":93.9},{"t":1260,"s":"r","v":98.6},{"t":1265,"s":"r","v":100.9},{"t":1270,"s":"r","v":105.6},{"t":1275,"s":"r","v":107.8},{"t":1280,"s":"r","v":112.3},{"t":1285,"s":"r","v":113.8},{"t":1290,"s":"r","v":117.9},{"t":1295,"s":"r","v":119.6},{"t":1300,"s":"r","v":123.1},{"t":1305,"s":"r","v":124.0},{"t":1310,"s":"r","v":127.2},{"t":1315,"s":"r","v":127.7},{"t":1320,"s":"r","v":130.6},{"t":1325,"s":"r","v":130.8},{"t":1330,"s":"r","v":133.4},{"t":1335,"s":"r","v":133.4},{"t":1340,"s":"r","v":135.9},{"t":1345,"s":"r","v":136.0},{"t":1350,"s":"r","v":138.3},{"t":1355,"s":"r","v":138.2},{"t":1360,"s":"r","v":140.5},{"t":1365,"s":"r","v":140.3},{"t":1370,"s":"r","v":142.3},{"t":1375,"s":"r","v":141.9},{"t":1380,"s":"r","v":143.9},{"t":1385,"s":"r","v":143.4},{"t":1390,"s":"r","v":145.3},{"t":1395,"s":"r","v":144.7},{"t":1400,"s":"r","v":146.4},{"t":1405,"s":"r","v":146.0},{"t":1410,"s":"r","v":147.8},{"t":1415,"s":"r","v":147.5},{"t":1420,"s":"r","v":148.4},
{"t":1348,"s":"r","v":130.6},{"t":1350,"s":"r","v":127.7},{"t":1372,"s":"r","v":131.8},{"t":1373,"s":"r","v":128.9},{"t":1406,"s":"r","v":142.9},{"t":1407,"s":"r","v":141.7},
{"t":1425,"s":"r","v":146.3},{"t":1430,"s":"r","v":143.9},{"t":1435,"s":"r","v":141.7},{"t":1440,"s":"r","v":138.6},{"t":1445,"s":"r","v":135.9},{"t":1450,"s":"r","v":131.7},{"t":1455,"s":"r","v":128.8},{"t":1460,"s":"r","v":124.5},{"t":1465,"s":"r","v":121.0},{"t":1470,"s":"r","v":116.9},{"t":1475,"s":"r","v":114.0},{"t":1480,"s":"r","v":109.9},{"t":1485,"s":"r","v":107.3},{"t":1490,"s":"r","v":103.6},{"t":1495,"s":"r","v":101.1},{"t":1500,"s":"r","v":97.8},{"t":1505,"s":"r","v":95.7},{"t":1510,"s":"r","v":92.3},{"t":1515,"s":"r","v":90.5},{"t":1520,"s":"r","v":87.5},{"t":1525,"s":"r","v":85.7},{"t":1530,"s":"r","v":83.5},{"t":1535,"s":"r","v":82.3},{"t":1540,"s":"r","v":80.3},{"t":1545,"s":"r","v":79.7},{"t":1550,"s":"r","v":77.7},{"t":1555,"s":"r","v":76.9},{"t":1560,"s":"r","v":75.0},{"t":1565,"s":"r","v":74.7},{"t":1570,"s":"r","v":73.3},{"t":1575,"s":"r","v":72.9},{"t":1580,"s":"r","v":71.3},{"t":1585,"s":"r","v":71.0},{"t":1590,"s":"r","v":69.8},{"t":1595,"s":"r","v":69.8},{"t":1600,"s":"r","v":68.6},{"t":1605,"s":"r","v":68.7},{"t":1610,"s":"r","v":67.5},{"t":1615,"s":"r","v":67.5},{"t":1620,"s":"r","v":66.5},{"t":1625,"s":"r","v":66.6},{"t":1630,"s":"r","v":65.6},{"t":1635,"s":"r","v":65.8},{"t":1640,"s":"r","v":64.9},{"t":1645,"s":"r","v":65.2},{"t":1650,"s":"r","v":64.3},{"t":1655,"s":"r","v":64.6},{"t":1660,"s":"r","v":63.7},{"t":1665,"s":"r","v":64.1},{"t":1670,"s":"r","v":63.2},{"t":1675,"s":"r","v":63.6},{"t":1680,"s":"r","v":62.8},{"t":1685,"s":"r","v":63.2},{"t":1690,"s":"r","v":62.4},{"t":1695,"s":"r","v":62.8},{"t":1700,"s":"r","v":62.0},{"t":1705,"s":"r","v":62.6},{"t":1710,"s":"r","v":61.7},{"t":1715,"s":"r","v":62.3},{"t":1720,"s":"r","v":61.4},{"t":1725,"s":"r","v":62.1},{"t":1730,"s":"r","v":61.2},{"t":1735,"s":"r","v":61.9},{"t":1740,"s":"r","v":60.9},{"t":1745,"s":"r","v":61.7},
{"t":1750,"s":"r","v":60.8},{"t":1755,"s":"r","v":61.6},{"t":1760,"s":"r","v":60.5},{"t":1765,"s":"r","v":61.9},{"t":1770,"s":"r","v":60.7},{"t":1775,"s":"r","v":61.3},{"t":1780,"s":"r","v":60.3},{"t":1785,"s":"r","v":61.7},{"t":1790,"s":"r","v":61.0},{"t":1795,"s":"r","v":62.0},{"t":1800,"s":"r","v":60.6},{"t":1805,"s":"r","v":61.3},{"t":1810,"s":"r","v":60.9},{"t":1815,"s":"r","v":61.8},{"t":1820,"s":"r","v":60.4},{"t":1825,"s":"r","v":61.5},{"t":1826,"s":"r","v":66.6},{"t":1830,"s":"r","v":61.0},{"t":1835,"s":"r","v":62.0},{"t":1840,"s":"r","v":60.7},{"t":1845,"s":"r","v":61.2},{"t":1849,"s":"r","v":56.7},{"t":1850,"s":"r","v":60.5},{"t":1855,"s":"r","v":61.6},{"t":1860,"s":"r","v":61.0},{"t":1865,"s":"r","v":61.9},{"t":1870,"s":"r","v":60.3},{"t":1875,"s":"r","v":61.4},{"t":1880,"s":"r","v":60.8},{"t":1885,"s":"r","v":61.7},{"t":1890,"s":"r","v":60.6},{"t":1895,"s":"r","v":61.1},{"t":1900,"s":"r","v":60.4},{"t":1905,"s":"r","v":61.8},{"t":1910,"s":"r","v":61.0},{"t":1915,"s":"r","v":61.5},{"t":1920,"s":"r","v":60.2},{"t":1925,"s":"r","v":61.3},{"t":1930,"s":"r","v":60.9},{"t":1935,"s":"r","v":61.9},{"t":1940,"s":"r","v":60.6},{"t":1942,"s":"r","v":58.4},{"t":1945,"s":"r","v":61.2},{"t":1950,"s":"r","v":60.7},{"t":1955,"s":"r","v":61.6},{"t":1960,"s":"r","v":60.4},{"t":1965,"s":"r","v":61.4},{"t":1970,"s":"r","v":61.0},{"t":1975,"s":"r","v":62.0},{"t":1980,"s":"r","v":60.5},{"t":1985,"s":"r","v":61.3},{"t":1990,"s":"r","v":60.8},{"t":1995,"s":"r","v":61.7},{"t":2000,"s":"r","v":60.3},{"t":2005,"s":"r","v":61.2},{"t":2010,"s":"r","v":60.9},{"t":2015,"s":"r","v":61.8},{"t":2016,"s":"r","v":58.1},{"t":2020,"s":"r","v":60.5},{"t":2025,"s":"r","v":61.5},{"t":2030,"s":"r","v":60.7},{"t":2035,"s":"r","v":61.9},{"t":2040,"s":"r","v":60.4},{"t":2045,"s":"r","v":61.1},{"t":2050,"s":"r","v":60.8},{"t":2055,"s":"r","v":61.6},{"t":2060,"s":"r","v":60.2},{"t":2065,"s":"r","v":61.4},{"t":2070,"s":"r","v":61.0},{"t":2075,"s":"r","v":61.8},{"t":2080,"s":"r","v":60.6},{"t":2085,"s":"r","v":61.3},{"t":2090,"s":"r","v":61.9},
{"t":2095,"s":"r","v":58.6},{"t":2100,"s":"r","v":55.4},{"t":2105,"s":"r","v":50.0},{"t":2110,"s":"r","v":45.6},{"t":2115,"s":"r","v":39.4},{"t":2120,"s":"r","v":36.0},{"t":2125,"s":"r","v":30.0},{"t":2130,"s":"r","v":26.1},{"t":2135,"s":"r","v":20.3},{"t":2140,"s":"r","v":17.0},{"t":2145,"s":"r","v":11.5},{"t":2150,"s":"r","v":8.0},{"t":2155,"s":"r","v":2.7},{"t":2160,"s":"r","v":-0.5},{"t":2165,"s":"r","v":-6.0},{"t":2170,"s":"r","v":-9.0},{"t":2175,"s":"r","v":-14.3},{"t":2178,"s":"r","v":-16.5},{"t":2180,"s":"r","v":-19.0},
{"t":292.5,"s":"r","v":58.9},{"t":297.5,"s":"r","v":54.6},{"t":302.5,"s":"r","v":50.3},{"t":307.5,"s":"r","v":45.8},{"t":312.5,"s":"r","v":41.0},{"t":317.5,"s":"r","v":36.0},{"t":322.5,"s":"r","v":31.1},{"t":327.5,"s":"r","v":25.9},{"t":332.5,"s":"r","v":21.0},{"t":337.5,"s":"r","v":16.0},{"t":342.5,"s":"r","v":11.0},{"t":347.5,"s":"r","v":6.2},{"t":352.5,"s":"r","v":1.8},{"t":357.5,"s":"r","v":-3.2},{"t":362.5,"s":"r","v":-7.9},{"t":367.5,"s":"r","v":-11.8},{"t":372.5,"s":"r","v":-15.0},{"t":377.5,"s":"r","v":-18.1},{"t":382.5,"s":"r","v":-20.6},{"t":387.5,"s":"r","v":-22.9},{"t":392.5,"s":"r","v":-25.3},{"t":397.5,"s":"r","v":-27.5},{"t":402.5,"s":"r","v":-29.9},{"t":407.5,"s":"r","v":-32.1},{"t":412.5,"s":"r","v":-34.4},{"t":417.5,"s":"r","v":-36.4},{"t":422.5,"s":"r","v":-38.1},{"t":427.5,"s":"r","v":-39.5},{"t":432.5,"s":"r","v":-40.9},{"t":437.5,"s":"r","v":-42.2},{"t":442.5,"s":"r","v":-43.3},{"t":447.5,"s":"r","v":-44.4},
{"t":822.5,"s":"r","v":-59.6},{"t":827.5,"s":"r","v":-55.0},{"t":832.5,"s":"r","v":-50.9},{"t":837.5,"s":"r","v":-47.4},{"t":842.5,"s":"r","v":-43.2},{"t":847.5,"s":"r","v":-39.2},{"t":852.5,"s":"r","v":-35.3},{"t":857.5,"s":"r","v":-31.2},{"t":862.5,"s":"r","v":-27.2},{"t":867.5,"s":"r","v":-23.2},{"t":872.5,"s":"r","v":-19.2},{"t":877.5,"s":"r","v":-15.4},{"t":882.5,"s":"r","v":-11.8},{"t":887.5,"s":"r","v":-8.5},{"t":892.5,"s":"r","v":-5.3},{"t":897.5,"s":"r","v":-2.6},{"t":902.5,"s":"r","v":-0.3},{"t":907.5,"s":"r","v":2.0},{"t":912.5,"s":"r","v":4.2},{"t":917.5,"s":"r","v":6.2},{"t":922.5,"s":"r","v":8.1},{"t":927.5,"s":"r","v":10.0},{"t":932.5,"s":"r","v":12.0},{"t":937.5,"s":"r","v":13.7},{"t":942.5,"s":"r","v":15.6},
{"t":1192.5,"s":"r","v":43.0},{"t":1197.5,"s":"r","v":47.0},{"t":1202.5,"s":"r","v":51.6},{"t":1207.5,"s":"r","v":56.5},{"t":1212.5,"s":"r","v":61.5},{"t":1217.5,"s":"r","v":66.5},{"t":1222.5,"s":"r","v":70.6},{"t":1227.5,"s":"r","v":74.8},{"t":1232.5,"s":"r","v":78.6},{"t":1237.5,"s":"r","v":82.0},{"t":1242.5,"s":"r","v":85.6},{"t":1247.5,"s":"r","v":89.2},{"t":1252.5,"s":"r","v":92.7},{"t":1257.5,"s":"r","v":96.2},{"t":1262.5,"s":"r","v":99.8},{"t":1267.5,"s":"r","v":103.2},{"t":1272.5,"s":"r","v":106.7},{"t":1277.5,"s":"r","v":110.0},{"t":1282.5,"s":"r","v":113.1},{"t":1287.5,"s":"r","v":115.8},{"t":1292.5,"s":"r","v":118.7},{"t":1297.5,"s":"r","v":121.4},{"t":1302.5,"s":"r","v":123.5},{"t":1307.5,"s":"r","v":125.6},{"t":1312.5,"s":"r","v":127.4},{"t":1317.5,"s":"r","v":129.1},
{"t":1422.5,"s":"r","v":147.3},{"t":1427.5,"s":"r","v":145.1},{"t":1432.5,"s":"r","v":142.8},{"t":1437.5,"s":"r","v":140.2},{"t":1442.5,"s":"r","v":137.3},{"t":1447.5,"s":"r","v":133.8},{"t":1452.5,"s":"r","v":130.3},{"t":1457.5,"s":"r","v":126.6},{"t":1462.5,"s":"r","v":122.8},{"t":1467.5,"s":"r","v":119.0},{"t":1472.5,"s":"r","v":115.4},{"t":1477.5,"s":"r","v":112.0},{"t":1482.5,"s":"r","v":108.6},{"t":1487.5,"s":"r","v":105.4},{"t":1492.5,"s":"r","v":102.3},{"t":1497.5,"s":"r","v":99.4},{"t":1502.5,"s":"r","v":96.7},{"t":1507.5,"s":"r","v":94.0},{"t":1512.5,"s":"r","v":91.4},{"t":1517.5,"s":"r","v":89.0},{"t":1522.5,"s":"r","v":86.6},{"t":1527.5,"s":"r","v":84.6},{"t":1532.5,"s":"r","v":82.9},{"t":1537.5,"s":"r","v":81.2},{"t":1542.5,"s":"r","v":80.0},{"t":1547.5,"s":"r","v":78.7},
{"t":2092.5,"s":"r","v":60.5},{"t":2097.5,"s":"r","v":57.0},{"t":2102.5,"s":"r","v":52.7},{"t":2107.5,"s":"r","v":47.8},{"t":2112.5,"s":"r","v":42.6},{"t":2117.5,"s":"r","v":37.7},{"t":2122.5,"s":"r","v":33.0},{"t":2127.5,"s":"r","v":28.0},{"t":2132.5,"s":"r","v":23.2},{"t":2137.5,"s":"r","v":18.6},{"t":2142.5,"s":"r","v":14.2},{"t":2147.5,"s":"r","v":9.8},{"t":2152.5,"s":"r","v":5.3},{"t":2157.5,"s":"r","v":1.0},{"t":2162.5,"s":"r","v":-3.3},{"t":2167.5,"s":"r","v":-7.5},{"t":2172.5,"s":"r","v":-11.6},{"t":2177.5,"s":"r","v":-15.8}
]},
"layer":[
{"data":{"name":"bands"},"mark":{"type":"rect"},
 "encoding":{"x":{"field":"a","type":"quantitative","scale":{"domain":[0,2220],"nice":false,"zero":false},
   "axis":{"values":[0,60,120,180,240,300,360,420,480,540,600,660,720,780,840,900,960,1020,1080,1140,1200,1260,1320,1380,1440,1500,1560,1620,1680,1740,1800,1860,1920,1980,2040,2100,2160,2220],"labelExpr":"datum.value % 300 === 0 ? '' + datum.value : ''","grid":false,"title":"t [s]","titleAngle":0,"titleX":1546,"titleY":47,"titleAlign":"left","titleBaseline":"alphabetic","titleFontSize":28}},
  "x2":{"field":"b"},
  "y":{"datum":195,"type":"quantitative","scale":{"domain":[-65,195],"nice":false,"zero":false},
   "axis":{"values":[-65,-60,-55,-50,-45,-40,-35,-30,-25,-20,-15,-10,-5,0,5,10,15,20,25,30,35,40,45,50,55,60,65,70,75,80,85,90,95,100,105,110,115,120,125,130,135,140,145,150,155,160,165,170,175,180,185,190,195],"labelExpr":"datum.value % 65 === 0 ? '' + datum.value : ''","grid":true,"gridOpacity":{"condition":{"test":"datum.value % 65 === 0","value":1},"value":0},"title":"T [°C]","titleAngle":0,"titleX":-75,"titleY":-21,"titleAlign":"left","titleBaseline":"alphabetic"}},
  "y2":{"datum":180},
  "color":{"condition":{"test":"datum.label === 'Heater on (35 V)'","value":"#92D050"},"value":"#F2DCDB"}}},
{"data":{"name":"bands"},"mark":{"type":"text","fontSize":22,"fontWeight":"bold","font":"Lato","color":"#000","baseline":"middle","align":"center"},
 "encoding":{"x":{"field":"m","type":"quantitative"},"y":{"datum":187.5,"type":"quantitative"},"text":{"field":"label"}}},
{"data":{"name":"sp"},"mark":{"type":"line","color":"#4A452A","strokeWidth":5.5,"strokeJoin":"miter"},
 "encoding":{"x":{"field":"t","type":"quantitative"},"y":{"field":"v","type":"quantitative"}}},
{"data":{"name":"sp"},"mark":{"type":"line","color":"#F7F6EC","strokeWidth":1.8,"strokeJoin":"miter"},
 "encoding":{"x":{"field":"t","type":"quantitative"},"y":{"field":"v","type":"quantitative"}}},
{"data":{"name":"pts"},"mark":{"type":"point","filled":true,"opacity":1,"strokeWidth":0},
 "encoding":{"x":{"field":"t","type":"quantitative"},"y":{"field":"v","type":"quantitative"},
  "color":{"field":"s","type":"nominal","scale":{"domain":["b","r","c"],"range":["#4F81BD","#C0504D","#4A452A"]},
   "legend":{"title":null,"orient":"none","legendX":9,"legendY":53,"fillColor":"white","strokeColor":"#404040","padding":12,"rowPadding":24,"labelOffset":13,"labelLimit":400,"labelFontSize":22,"labelFont":"Lato","labelColor":"#000","labelExpr":"datum.value === 'b' ? 'sample 5754-8' : datum.value === 'r' ? 'sample 5754-9' : 'set point climate chamber'"}},
  "shape":{"field":"s","type":"nominal","scale":{"domain":["b","r","c"],"range":["circle","circle","M-1,-0.31H1V-0.08H-1Z M-1,0.08H1V0.31H-1Z"]},
   "legend":{"title":null,"orient":"none","legendX":9,"legendY":53,"fillColor":"white","strokeColor":"#404040","padding":12,"rowPadding":24,"labelOffset":13,"labelLimit":400,"labelFontSize":22,"labelFont":"Lato","labelColor":"#000","labelExpr":"datum.value === 'b' ? 'sample 5754-8' : datum.value === 'r' ? 'sample 5754-9' : 'set point climate chamber'"}},
  "size":{"field":"s","type":"nominal","scale":{"type":"ordinal","domain":["b","r","c"],"range":[18,26,841]},
   "legend":{"title":null,"orient":"none","legendX":9,"legendY":53,"fillColor":"white","strokeColor":"#404040","padding":12,"rowPadding":24,"labelOffset":13,"labelLimit":400,"labelFontSize":22,"labelFont":"Lato","labelColor":"#000","labelExpr":"datum.value === 'b' ? 'sample 5754-8' : datum.value === 'r' ? 'sample 5754-9' : 'set point climate chamber'"}}}},
{"data":{"name":"annr"},"mark":{"type":"text","fontSize":21,"fontWeight":"bold","font":"Lato","color":"#C00000","align":"left","baseline":"middle"},
 "encoding":{"x":{"field":"t","type":"quantitative"},"y":{"field":"v","type":"quantitative"},"text":{"field":"label"}}},
{"data":{"name":"annb"},"mark":{"type":"text","fontSize":21,"fontWeight":"bold","font":"Lato","color":"#0070C0","align":"left","baseline":"middle"},
 "encoding":{"x":{"field":"t","type":"quantitative"},"y":{"field":"v","type":"quantitative"},"text":{"field":"label"}}}
]
}
